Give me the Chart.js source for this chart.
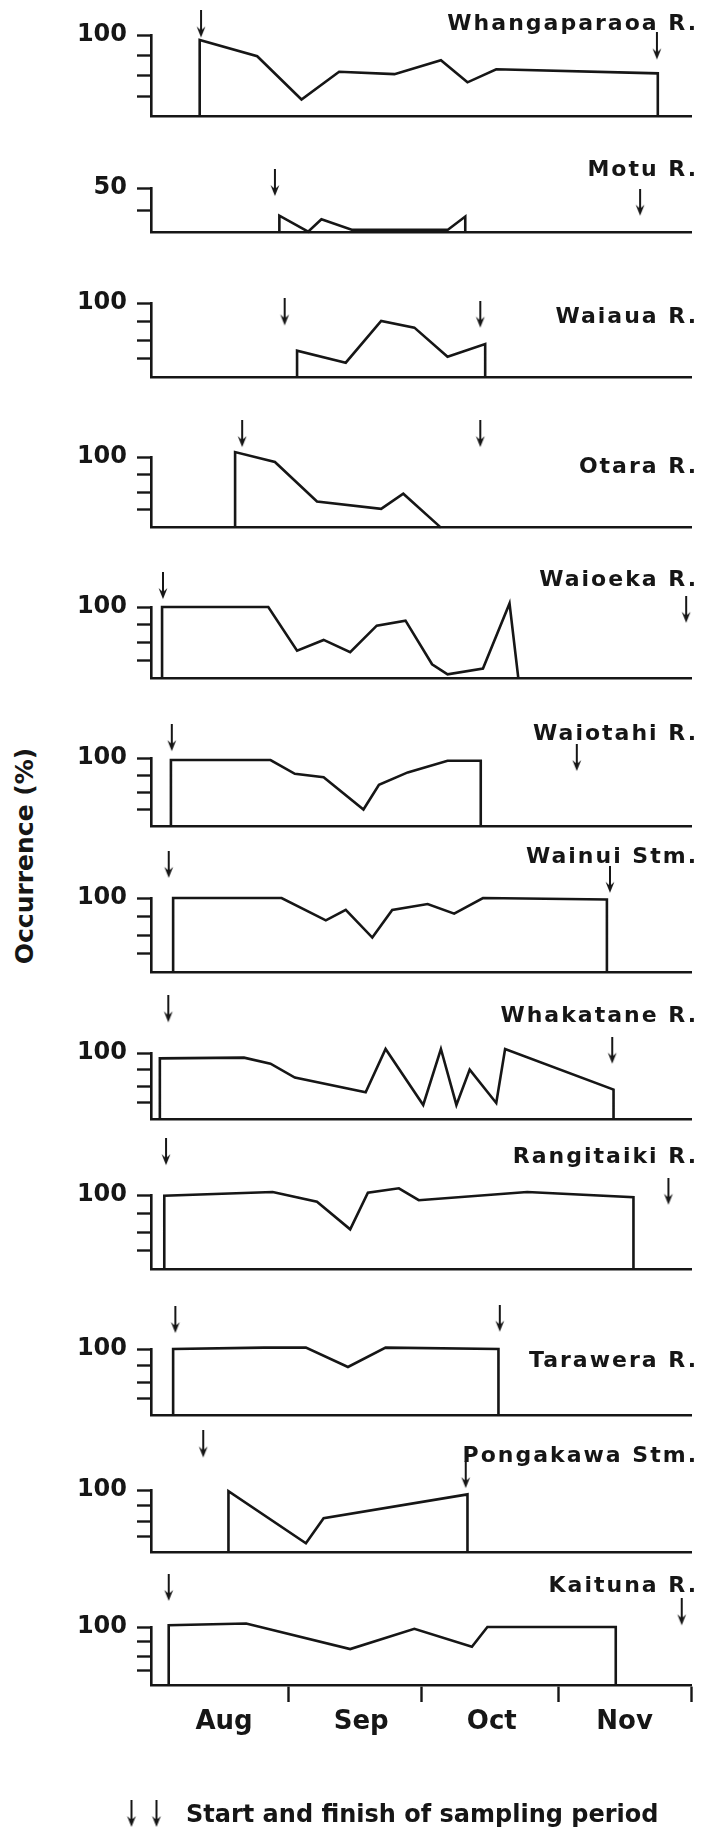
<!DOCTYPE html>
<html>
<head>
<meta charset="utf-8">
<title>Occurrence by river</title>
<script src="https://cdn.jsdelivr.net/npm/chart.js@4.4.1/dist/chart.umd.min.js"></script>
<style>
  html, body { margin: 0; padding: 0; background: #fff; }
  #figure { position: relative; width: 701px; height: 1829px; background: #fff; overflow: hidden; }
  #figure canvas { position: absolute; left: 0; }
  .ylabel {
    position: absolute; left: 24px; top: 856px;
    transform: translate(-50%, -50%) rotate(-90deg);
    font: bold 25px "DejaVu Sans", sans-serif; color: #161616; white-space: nowrap;
  }
</style>
</head>
<body>
<div id="figure">
  <div class="ylabel">Occurrence (%)</div>
</div>
<script>
// Days are counted from 1 August
const months = ['Aug', 'Sep', 'Oct', 'Nov'];
const monthStarts = [31, 61, 92, 122];
const monthMids = [16.5, 47.5, 77, 107];

const rivers = ['Whangaparaoa R.', 'Motu R.', 'Waiaua R.', 'Otara R.', 'Waioeka R.', 'Waiotahi R.',
                'Wainui Stm.', 'Whakatane R.', 'Rangitaiki R.', 'Tarawera R.', 'Pongakawa Stm.', 'Kaituna R.'];

// occurrence (%) on each sampling day
const whangaparaoaDays = [11, 11, 24, 34, 42.5, 55, 65.5, 71.5, 78, 114.5, 114.5];
const whangaparaoaPct  = [0, 94, 74, 21, 55, 52, 69, 42, 58, 53, 0];
const motuDays = [29, 29, 35.5, 38.5, 45.5, 67, 71, 71];
const motuPct  = [0, 19, 1, 15, 3, 3, 18, 0];
const waiauaDays = [33, 33, 44, 52, 59.5, 67, 75.5, 75.5];
const waiauaPct  = [0, 36, 20, 76, 67, 28, 45, 0];
const otaraDays = [19, 19, 28, 37.5, 52, 57, 65.5];
const otaraPct  = [0, 107, 93, 37, 26.5, 48, 0];
const waioekaDays = [2.5, 2.5, 26.5, 33, 39, 45, 51, 57.5, 63.5, 67, 75, 81, 83];
const waioekaPct  = [0, 100, 100, 39, 54, 37, 74, 81, 20, 6, 14, 105, 0];
const waiotahiDays = [4.5, 4.5, 27, 32.5, 39, 48, 51.5, 58, 67, 74.5, 74.5];
const waiotahiPct  = [0, 97, 97, 77, 72, 25, 61, 79, 96, 96, 0];
const wainuiDays = [5, 5, 29.5, 39.5, 44, 50, 54.5, 62.5, 68.5, 75, 103, 103];
const wainuiPct  = [0, 100, 100, 70, 84, 47, 84, 92, 79, 100, 98, 0];
const whakataneDays = [2, 2, 21, 27, 32.5, 48.5, 53, 61.5, 65.5, 69, 72, 78, 80, 104.5, 104.5];
const whakatanePct  = [0, 92, 93, 84, 63, 41, 106, 22, 106, 22, 75, 25, 106, 45, 0];
const rangitaikiDays = [3, 3, 27.5, 37.5, 45, 49, 56, 60.5, 85, 109, 109];
const rangitaikiPct  = [0, 99, 104, 91, 54, 103, 109, 93, 104, 97, 0];
const taraweraDays = [5, 5, 25.5, 35, 44.5, 53, 78.5, 78.5];
const taraweraPct  = [0, 100, 102, 102, 73, 102, 100, 0];
const pongakawaDays = [17.5, 17.5, 35, 39, 71.5, 71.5];
const pongakawaPct  = [0, 98, 15, 55, 93, 0];
const kaitunaDays = [4, 4, 21.5, 45, 59.5, 72.5, 76, 105, 105];
const kaitunaPct  = [0, 103, 106, 62, 97, 66, 100, 100, 0];

// start and finish of the sampling period, and the level the arrow points at
const startDays = [11.3, 28, 30.2, 20.6, 2.7, 4.7, 4, 3.9, 3.4, 5.5, 11.8, 4];
const endDays   = [114.3, 110.5, 74.4, 74.4, 120.9, 96.2, 103.7, 104.2, 116.9, 78.8, 71.1, 119.9];
const startTip  = [97, 41, 70, 114, 111, 110, 127, 146, 140, 124, 152, 145];
const endTip    = [70, 19, 67, 114, 78, 81, 107, 84, 87, 126, 103, 103];

const series = [
  [whangaparaoaDays, whangaparaoaPct], [motuDays, motuPct], [waiauaDays, waiauaPct],
  [otaraDays, otaraPct], [waioekaDays, waioekaPct], [waiotahiDays, waiotahiPct],
  [wainuiDays, wainuiPct], [whakataneDays, whakatanePct], [rangitaikiDays, rangitaikiPct],
  [taraweraDays, taraweraPct], [pongakawaDays, pongakawaPct], [kaitunaDays, kaitunaPct]
];

// page layout of each panel: y of top tick, y of baseline, axis max, title baseline
const panels = [
  { top: 35,   base: 117,  max: 100, titleY: 30 },
  { top: 188,  base: 233,  max: 50,  titleY: 176 },
  { top: 303,  base: 378,  max: 100, titleY: 323 },
  { top: 457,  base: 528,  max: 100, titleY: 473 },
  { top: 607,  base: 679,  max: 100, titleY: 586 },
  { top: 758,  base: 827,  max: 100, titleY: 740 },
  { top: 898,  base: 973,  max: 100, titleY: 863 },
  { top: 1053, base: 1120, max: 100, titleY: 1022 },
  { top: 1195, base: 1270, max: 100, titleY: 1163 },
  { top: 1349, base: 1416, max: 100, titleY: 1367 },
  { top: 1490, base: 1553, max: 100, titleY: 1462 },
  { top: 1627, base: 1685, max: 100, titleY: 1592 }
];

const ink = '#161616';
const FONT = 'DejaVu Sans';
const PAGE_W = 701, PAGE_H = 1829;
const PAD_TOP = 80;
const ARROW_LEN = 27;
const MONTH_AXIS_H = 60;
const LINE_W = 2.6;

// down arrow, tip at the vertical centre so a point marker lands on its tip
function makeArrow(len) {
  const c = document.createElement('canvas');
  c.width = 12;
  c.height = len * 2;
  const g = c.getContext('2d');
  g.strokeStyle = ink;
  g.fillStyle = ink;
  g.lineWidth = 2;
  g.beginPath();
  g.moveTo(6, 0);
  g.lineTo(6, len - 6);
  g.stroke();
  g.beginPath();
  g.moveTo(1.6, len - 11);
  g.lineTo(6, len - 7);
  g.lineTo(10.4, len - 11);
  g.lineTo(6, len);
  g.closePath();
  g.fill();
  return c;
}
const arrowImg = makeArrow(ARROW_LEN);

// river name, right aligned; the printed names are tracked out a little
const riverTitle = {
  id: 'riverTitle',
  afterDraw(chart, args, opts) {
    const ctx = chart.ctx;
    ctx.save();
    ctx.font = 'bold 22px "' + FONT + '"';
    ctx.fillStyle = ink;
    ctx.textAlign = 'right';
    ctx.textBaseline = 'alphabetic';
    if ('letterSpacing' in ctx) {
      ctx.letterSpacing = '2px';
      ctx.fillText(opts.text, opts.x + 2, opts.y);
    } else {
      const w = ctx.measureText(opts.text).width;
      const k = (w + 2 * opts.text.length) / w;
      ctx.translate(opts.x, opts.y);
      ctx.scale(k, 1);
      ctx.fillText(opts.text, 0, 0);
    }
    ctx.restore();
  }
};

// key under the last panel
const samplingKey = {
  id: 'samplingKey',
  afterDraw(chart, args, opts) {
    if (!opts.show) return;
    const ctx = chart.ctx;
    ctx.save();
    [131.5, 156.5].forEach(x => ctx.drawImage(arrowImg, x - 6, opts.tipY - ARROW_LEN));
    ctx.font = 'bold 24px "' + FONT + '"';
    ctx.fillStyle = ink;
    ctx.textAlign = 'left';
    ctx.textBaseline = 'alphabetic';
    ctx.fillText('Start and finish of sampling period', 186, opts.textY);
    ctx.restore();
  }
};

const figure = document.getElementById('figure');

panels.forEach((p, i) => {
  const last = i === panels.length - 1;
  const canvasTop = p.top - PAD_TOP;
  const below = last ? PAGE_H - p.base : 24;
  const xAxisH = last ? MONTH_AXIS_H : 0;
  const height = p.base - p.top + PAD_TOP + below;

  const canvas = document.createElement('canvas');
  canvas.width = PAGE_W;
  canvas.height = height;
  canvas.style.top = canvasTop + 'px';
  figure.appendChild(canvas);

  const [days, pct] = series[i];
  const points = days.map((d, k) => ({ x: d, y: pct[k] }));

  const xAxis = {
    type: 'linear', min: 0, max: 122,
    border: { display: true, color: ink, width: LINE_W },
    grid: { display: false },
    ticks: { display: false },
    afterFit: s => { s.height = xAxisH; }
  };
  if (last) {
    Object.assign(xAxis, {
      afterBuildTicks: s => {
        s.ticks = monthMids.concat(monthStarts).sort((a, b) => a - b).map(v => ({ value: v }));
      },
      grid: {
        display: true, drawOnChartArea: false, drawTicks: true,
        tickLength: 17, tickWidth: 2.4,
        tickColor: c => (c.tick && monthStarts.includes(c.tick.value)) ? ink : 'rgba(0,0,0,0)'
      },
      ticks: {
        display: true, autoSkip: false, maxRotation: 0, padding: 5, color: ink,
        font: { family: FONT, weight: 'bold', size: 26 },
        callback: v => {
          const k = monthMids.indexOf(v);
          return k >= 0 ? months[k] : '';
        }
      }
    });
  }

  const yTicks = [];
  for (let v = 0; v <= p.max; v += 25) yTicks.push(v);

  new Chart(canvas, {
    type: 'line',
    data: {
      datasets: [
        {
          data: points,
          borderColor: ink,
          borderWidth: LINE_W,
          pointRadius: 0,
          tension: 0,
          fill: false,
          clip: false
        },
        {
          type: 'scatter',
          data: [{ x: startDays[i], y: startTip[i] }, { x: endDays[i], y: endTip[i] }],
          pointStyle: arrowImg,
          pointRadius: 80,
          clip: false
        }
      ]
    },
    options: {
      responsive: false,
      animation: false,
      events: [],
      layout: {
        autoPadding: false,
        padding: { top: PAD_TOP, bottom: below - xAxisH, left: 0, right: 10 }
      },
      plugins: {
        legend: { display: false },
        tooltip: { enabled: false },
        riverTitle: { text: rivers[i], x: 696, y: p.titleY - canvasTop },
        samplingKey: { show: last, tipY: 1827 - canvasTop, textY: 1822 - canvasTop }
      },
      scales: {
        x: xAxis,
        y: {
          min: 0, max: p.max,
          afterBuildTicks: s => { s.ticks = yTicks.map(v => ({ value: v })); },
          border: { display: true, color: ink, width: LINE_W },
          grid: {
            drawOnChartArea: false, drawTicks: true, tickLength: 14, tickWidth: 2.4,
            tickColor: c => (c.tick && c.tick.value === 0) ? 'rgba(0,0,0,0)' : ink
          },
          ticks: {
            autoSkip: false, padding: 10, color: ink,
            font: { family: FONT, weight: 'bold', size: 24 },
            callback: v => v === p.max ? String(v) : ''
          },
          afterFit: s => { s.width = 151; }
        }
      }
    },
    plugins: [riverTitle, samplingKey]
  });
});
</script>
</body>
</html>
